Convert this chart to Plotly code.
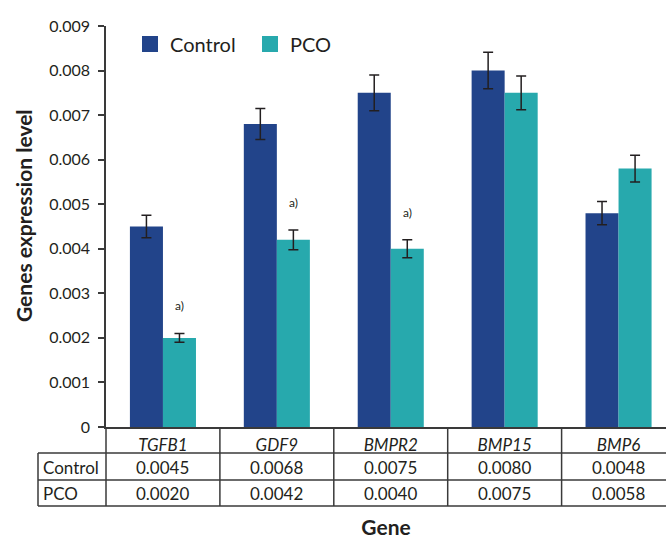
import plotly.graph_objects as go

genes = ["TGFB1", "GDF9", "BMPR2", "BMP15", "BMP6"]
control = [0.0045, 0.0068, 0.0075, 0.0080, 0.0048]
pco = [0.0020, 0.0042, 0.0040, 0.0075, 0.0058]
control_err = [0.00025, 0.00035, 0.0004, 0.00041, 0.00026]
pco_err = [0.0001, 0.00022, 0.0002, 0.00038, 0.0003]
pco_sig = [True, True, True, False, False]
y_ticks = [0, 0.001, 0.002, 0.003, 0.004, 0.005, 0.006, 0.007, 0.008, 0.009]

C_CTRL = "#22448A"
C_PCO = "#27A9AD"
INK = "#231F20"
LINE = "#3A3A3A"
FONT = "Lato"

W, H = 666, 539
ML, MR, MT, MB = 106, 0, 26, 112
PW, PH = W - ML - MR, H - MT - MB

def py(pix):
    """pixel row -> paper y"""
    return (H - MB - pix) / PH

def px(pix):
    return (pix - ML) / PW

xidx = list(range(len(genes)))

fig = go.Figure()
fig.add_trace(go.Bar(
    x=xidx, y=control, name="Control", marker_color=C_CTRL, marker_line_width=0,
    error_y=dict(type="data", array=control_err, color=INK, thickness=1.5, width=5),
    showlegend=False,
))
fig.add_trace(go.Bar(
    x=xidx, y=pco, name="PCO", marker_color=C_PCO, marker_line_width=0,
    error_y=dict(type="data", array=pco_err, color=INK, thickness=1.5, width=5),
    showlegend=False,
))
# legend entries
for nm, col in [("Control", C_CTRL), ("PCO", C_PCO)]:
    fig.add_trace(go.Scatter(x=[None], y=[None], mode="markers", name=nm,
                             marker=dict(symbol="square", size=16, color=col)))

# significance marks
for i, (v, e, s) in enumerate(zip(pco, pco_err, pco_sig)):
    if s:
        fig.add_annotation(x=i + 0.145, y=v + e, xref="x", yref="y", text="a)",
                           showarrow=False, yanchor="bottom", yshift=18,
                           font=dict(family=FONT, size=12, color=INK))

# table rows
rows = [("Control", control), ("PCO", pco)]
row_centers = [467, 493]
for (label, vals), yc in zip(rows, row_centers):
    fig.add_annotation(x=px(41), y=py(yc), xref="paper", yref="paper", text=label,
                       showarrow=False, xanchor="left", yanchor="middle",
                       font=dict(family=FONT, size=17, color=INK))
    for i, v in enumerate(vals):
        fig.add_annotation(x=i, y=py(yc), xref="x", yref="paper", text=f"{v:.4f}",
                           showarrow=False, xanchor="center", yanchor="middle",
                           font=dict(family=FONT, size=17, color=INK))

# y axis title
fig.add_annotation(x=px(23), y=py(216), xref="paper", yref="paper",
                   text="<b>Genes expression level</b>", textangle=-90, showarrow=False,
                   xanchor="center", yanchor="middle",
                   font=dict(family=FONT, size=21, color=INK))

# table lines
for yl, x0 in [(453, 38), (480, 38), (506, 38)]:
    fig.add_shape(type="line", xref="paper", yref="paper", x0=px(x0), x1=1,
                  y0=py(yl), y1=py(yl), line=dict(color=LINE, width=1.5))
fig.add_shape(type="line", xref="paper", yref="paper", x0=px(38), x1=px(38),
              y0=py(453), y1=py(506), line=dict(color=LINE, width=1.5))
fig.add_shape(type="line", xref="paper", yref="paper", x0=0, x1=0,
              y0=py(427), y1=py(506), line=dict(color=LINE, width=1.5))
for i in range(1, len(genes)):
    fig.add_shape(type="line", xref="x", yref="paper", x0=i - 0.5, x1=i - 0.5,
                  y0=py(427), y1=py(506), line=dict(color=LINE, width=1.5))

fig.update_layout(
    width=W, height=H,
    margin=dict(l=ML, r=MR, t=MT, b=MB, autoexpand=False),
    paper_bgcolor="white", plot_bgcolor="white",
    barmode="group", bargap=0.42, bargroupgap=0,
    font=dict(family=FONT, color=INK),
    legend=dict(orientation="h", x=px(130), y=py(44), xanchor="left", yanchor="middle",
                font=dict(family=FONT, size=20, color=INK), bgcolor="rgba(0,0,0,0)",
                itemsizing="trace", traceorder="normal",
                entrywidth=75, entrywidthmode="pixels"),
    xaxis=dict(
        range=[-0.5, -0.5 + PW / 113.9], tickmode="array", tickvals=xidx, ticktext=genes,
        tickfont=dict(family=FONT, size=17, color=INK, style="italic"),
        ticks="", showgrid=False, zeroline=False, showline=True, linecolor=LINE, linewidth=1.5,
        ticklabelstandoff=2, automargin=False,
        title=dict(text="<b>Gene</b>", font=dict(family=FONT, size=21, color=INK), standoff=67),
    ),
    yaxis=dict(
        range=[0, 0.009], tickmode="array", tickvals=y_ticks,
        ticktext=["0" if t == 0 else f"{t:.3f}" for t in y_ticks],
        tickfont=dict(family=FONT, size=16, color=INK),
        ticks="outside", ticklen=6, tickwidth=1.5, tickcolor=LINE,
        showgrid=False, zeroline=False, showline=True, linecolor=LINE, linewidth=1.5,
        ticklabelstandoff=5, automargin=False,
    ),
)

fig.write_html("out.html", config={"displayModeBar": False},
               post_script="document.body.style.margin='0px';document.body.style.padding='0px';")
